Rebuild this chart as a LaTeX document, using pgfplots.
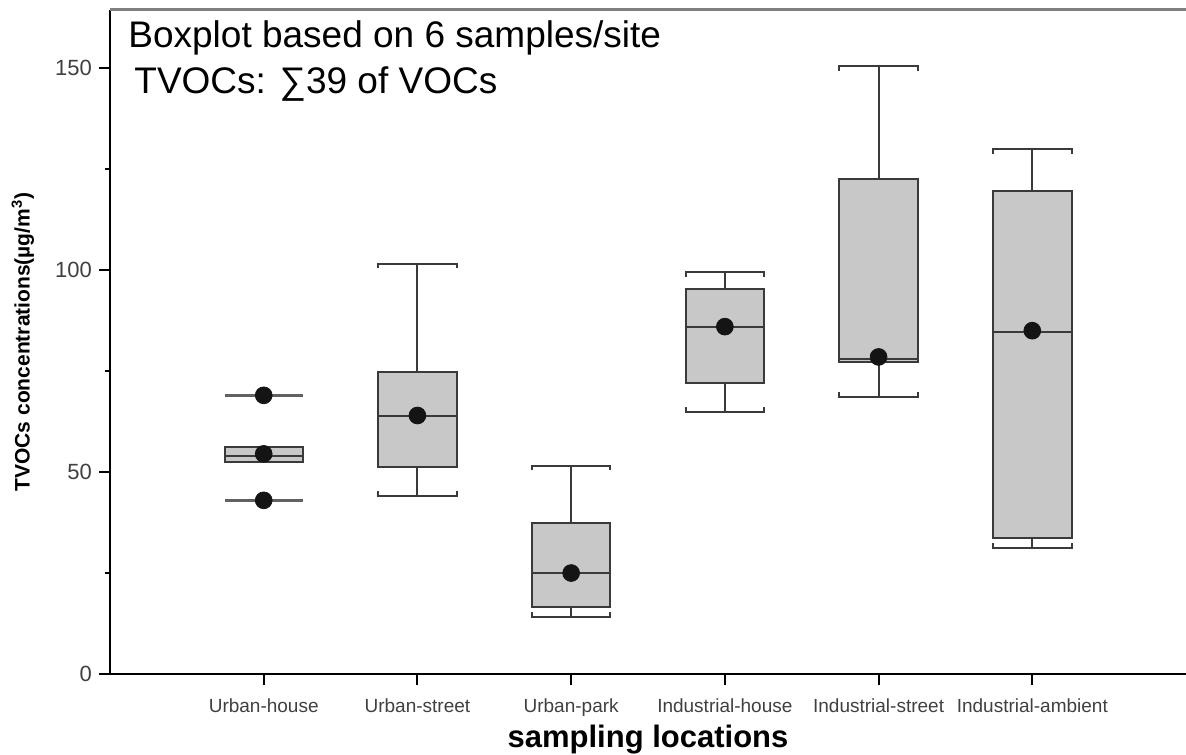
\documentclass[border=0pt]{standalone}
\usepackage{fontspec}
\setmainfont{Liberation Sans}
\usepackage{pgfplots}
\pgfplotsset{compat=1.18}

\definecolor{boxfill}{HTML}{C8C8C8}
\definecolor{edge}{HTML}{3A3A3A}
\definecolor{ticktext}{HTML}{404040}
\definecolor{topline}{HTML}{808080}

\pgfplotsset{
  whisk/.style={draw=edge, line width=1pt, no marks, line join=miter},
  boxst/.style={draw=edge, fill=boxfill, line width=1pt, no marks, line join=miter},
}

% x, lower whisker, lower quartile, median, upper quartile, upper whisker
\newcommand{\tvocbox}[6]{%
  \addplot[whisk] coordinates {(#1,#5) (#1,#6)};
  \addplot[whisk] coordinates {(#1,#3) (#1,#2)};
  \addplot[whisk] coordinates {({#1-0.255},{#6-1.2}) ({#1-0.255},#6) ({#1+0.255},#6) ({#1+0.255},{#6-1.2})};
  \addplot[whisk] coordinates {({#1-0.255},{#2+1.2}) ({#1-0.255},#2) ({#1+0.255},#2) ({#1+0.255},{#2+1.2})};
  \addplot[boxst] coordinates {({#1-0.255},#3) ({#1+0.255},#3) ({#1+0.255},#5) ({#1-0.255},#5)} -- cycle;
  \addplot[whisk] coordinates {({#1-0.255},#4) ({#1+0.255},#4)};
}

\begin{document}
\begin{tikzpicture}
\begin{axis}[
    scale only axis,
    width=538pt, height=332pt,
    xmin=0, xmax=7,
    ymin=0, ymax=164.4,
    axis x line*=bottom, axis y line*=left,
    axis line style={black, line width=1.2pt},
    xtick={1,2,3,4,5,6},
    xticklabels={Urban-house, Urban-street, Urban-park, Industrial-house, Industrial-street, Industrial-ambient},
    ytick={0,50,100,150},
    minor ytick={25,75,125},
    tick align=outside,
    major tick length=5.5pt, minor tick length=2.5pt,
    every tick/.style={black, line width=1pt},
    /pgf/number format/assume math mode=true,
    xticklabel style={font=\fontsize{9.5}{11}\selectfont, text=ticktext, yshift=-3.5pt},
    yticklabel style={font=\fontsize{11}{13}\selectfont, text=ticktext},
    xlabel={sampling locations},
    ylabel={TVOCs concentrations(µg/m\textsuperscript{3})},
    every axis x label/.style={at={(axis description cs:0.5,-0.11)}, anchor=base,
      font=\fontsize{15.5}{18}\bfseries\selectfont},
    every axis y label/.style={at={(axis description cs:-0.081,0.5)}, anchor=center, rotate=90,
      font=\fontsize{10.5}{12}\bfseries\selectfont},
    clip=false,
]
% Urban-house: narrow box, caps without whiskers
\addplot[draw=edge!80, line width=1.2pt, no marks] coordinates {(0.745,69) (1.255,69)};
\addplot[draw=edge!80, line width=1.2pt, no marks] coordinates {(0.745,43) (1.255,43)};
\addplot[boxst] coordinates {(0.745,52.5) (1.255,52.5) (1.255,56.3) (0.745,56.3)} -- cycle;
\addplot[whisk] coordinates {(0.745,54) (1.255,54)};
% Urban-street .. Industrial-ambient
\tvocbox{2}{44}{51.2}{64}{74.8}{101.6}
\tvocbox{3}{14.2}{16.6}{25}{37.4}{51.6}
\tvocbox{4}{64.8}{72}{86}{95.2}{99.5}
\tvocbox{5}{68.6}{77.3}{78}{122.5}{150.5}
\tvocbox{6}{31.2}{33.7}{84.7}{119.6}{130}

% mean / sample dots
\addplot[only marks, mark=*, mark size=4.2pt, color=black!92] coordinates {
    (1,69) (1,54.5) (1,43) (2,64) (3,25) (4,86) (5,78.5) (6,85)
};

\draw[topline, line width=1.5pt] (rel axis cs:0,1) -- (rel axis cs:1,1);
\node[anchor=base west, font=\fontsize{18.5}{22}\selectfont, inner sep=0pt]
    at ([xshift=9pt, yshift=-19pt]rel axis cs:0,1) {Boxplot based on 6 samples/site};
\node[anchor=base west, font=\fontsize{18.5}{22}\selectfont, inner sep=0pt]
    at ([xshift=12pt, yshift=-42pt]rel axis cs:0,1) {TVOCs: ∑39 of VOCs};

\coordinate (ll) at (rel axis cs:0,0);
\coordinate (ur) at (rel axis cs:1,1);
\end{axis}
\pgfresetboundingbox
\path ([xshift=-55pt, yshift=-40pt]ll) rectangle ([yshift=5pt]ur);
\end{tikzpicture}
\end{document}
